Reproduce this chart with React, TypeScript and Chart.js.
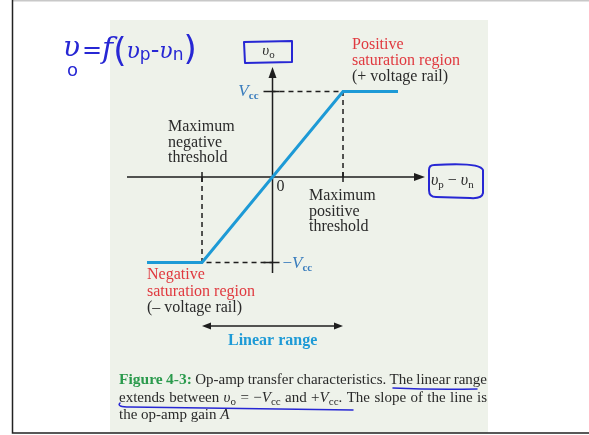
import React, { useEffect, useRef } from "react";
import { Chart, registerables } from "chart.js";

Chart.register(...registerables);

// Transfer characteristic: input (υp − υn, in threshold units) vs output (in Vcc units)
const inputDiff = [-1.78, -1, 1, 1.78];
const outputV = [-1, -1, 1, 1];
// Threshold inputs and rail outputs used for guides and ticks
const thresholds = [-1, 1];
const rails = [-1, 1];
const originLabel = "0";

const W = 589;
const H = 435;
const SERIF = '"Liberation Serif", "Times New Roman", serif';
const DARK = "#2a2a2a";
const RED = "#e0393f";
const CURVE = "#1d9ad6";
const RAILBLUE = "#3a7dbd";
const INK = "#2727d4";
const GREEN = "#2a9a4c";

type Run = { t: string; f: string; c: string; dy?: number };

function runsWidth(ctx: CanvasRenderingContext2D, runs: Run[]) {
  let w = 0;
  for (const r of runs) {
    ctx.font = r.f;
    w += ctx.measureText(r.t).width;
  }
  return w;
}

function drawRuns(
  ctx: CanvasRenderingContext2D,
  x: number,
  y: number,
  runs: Run[],
  justifyTo?: number
) {
  let extra = 0;
  if (justifyTo) {
    const nat = runsWidth(ctx, runs);
    const spaces = runs.reduce((n, r) => n + (r.t.match(/ /g) || []).length, 0);
    if (spaces > 0) extra = Math.max(-0.8, (justifyTo - nat) / spaces);
  }
  let cx = x;
  for (const r of runs) {
    ctx.font = r.f;
    ctx.fillStyle = r.c;
    const parts = r.t.split(/( )/);
    for (const p of parts) {
      if (p === "") continue;
      if (p !== " ") ctx.fillText(p, cx, y + (r.dy || 0));
      cx += ctx.measureText(p).width + (p === " " ? extra : 0);
    }
  }
  return cx;
}

function arrowHead(
  ctx: CanvasRenderingContext2D,
  tx: number,
  ty: number,
  dir: "up" | "right" | "left",
  len = 9,
  half = 4
) {
  ctx.beginPath();
  if (dir === "up") {
    ctx.moveTo(tx, ty);
    ctx.lineTo(tx - half, ty + len);
    ctx.lineTo(tx + half, ty + len);
  } else if (dir === "right") {
    ctx.moveTo(tx, ty);
    ctx.lineTo(tx - len, ty - half);
    ctx.lineTo(tx - len, ty + half);
  } else {
    ctx.moveTo(tx, ty);
    ctx.lineTo(tx + len, ty - half);
    ctx.lineTo(tx + len, ty + half);
  }
  ctx.closePath();
  ctx.fill();
}

const pagePlugin = {
  id: "page",
  beforeDraw(chart: any) {
    const ctx: CanvasRenderingContext2D = chart.ctx;
    ctx.save();
    ctx.fillStyle = "#ffffff";
    ctx.fillRect(0, 0, W, H);
    // figure panel
    ctx.fillStyle = "#eef2ea";
    ctx.fillRect(110, 20, 378, 413);
    // page frame
    ctx.strokeStyle = "#c8c8c8";
    ctx.lineWidth = 1.5;
    ctx.beginPath();
    ctx.moveTo(12, 0.75);
    ctx.lineTo(W, 0.75);
    ctx.stroke();
    ctx.strokeStyle = "#222";
    ctx.lineWidth = 1.5;
    ctx.beginPath();
    ctx.moveTo(12.5, 0);
    ctx.lineTo(12.5, 433);
    ctx.lineTo(W, 433);
    ctx.stroke();
    ctx.restore();
  },
  beforeDatasetsDraw(chart: any) {
    const ctx: CanvasRenderingContext2D = chart.ctx;
    const xs = chart.scales.x;
    const ys = chart.scales.y;
    const ox = xs.getPixelForValue(0);
    const oy = ys.getPixelForValue(0);
    const a = chart.chartArea;
    ctx.save();
    ctx.strokeStyle = "#1e1e1e";
    ctx.fillStyle = "#1e1e1e";
    ctx.lineWidth = 1.5;
    // axes
    ctx.beginPath();
    ctx.moveTo(a.left, oy);
    ctx.lineTo(a.right - 6, oy);
    ctx.moveTo(ox, a.bottom);
    ctx.lineTo(ox, a.top + 6);
    ctx.stroke();
    arrowHead(ctx, a.right, oy, "right", 11, 4);
    arrowHead(ctx, ox, a.top, "up", 11, 4);
    // ticks
    ctx.beginPath();
    for (const t of thresholds) {
      const px = xs.getPixelForValue(t);
      ctx.moveTo(px, oy - 5);
      ctx.lineTo(px, oy + 5);
    }
    for (const r of rails) {
      const py = ys.getPixelForValue(r);
      ctx.moveTo(ox - 9, py);
      ctx.lineTo(ox + 7, py);
    }
    ctx.stroke();
    ctx.restore();
  },
  afterDraw(chart: any) {
    const ctx: CanvasRenderingContext2D = chart.ctx;
    const xs = chart.scales.x;
    const ys = chart.scales.y;
    const ox = xs.getPixelForValue(0);
    const oy = ys.getPixelForValue(0);
    const yTop = ys.getPixelForValue(rails[1]);
    const yBot = ys.getPixelForValue(rails[0]);
    const xL = xs.getPixelForValue(thresholds[0]);
    const xR = xs.getPixelForValue(thresholds[1]);
    ctx.save();
    ctx.textBaseline = "alphabetic";
    const f16 = `16px ${SERIF}`;
    const f16i = `italic 16px ${SERIF}`;
    const f15 = `15px ${SERIF}`;
    const f15i = `italic 15px ${SERIF}`;
    const f11 = `11px ${SERIF}`;

    // region labels
    drawRuns(ctx, 352, 49, [{ t: "Positive", f: f16, c: RED }]);
    drawRuns(ctx, 352, 65, [{ t: "saturation region", f: f16, c: RED }]);
    drawRuns(ctx, 352, 81, [{ t: "(+ voltage rail)", f: f16, c: DARK }]);

    drawRuns(ctx, 147, 279, [{ t: "Negative", f: f16, c: RED }]);
    drawRuns(ctx, 147, 296, [{ t: "saturation region", f: f16, c: RED }]);
    drawRuns(ctx, 147, 312, [{ t: "(\u2013 voltage rail)", f: f16, c: DARK }]);

    drawRuns(ctx, 168, 131, [{ t: "Maximum", f: f16, c: DARK }]);
    drawRuns(ctx, 168, 147, [{ t: "negative", f: f16, c: DARK }]);
    drawRuns(ctx, 168, 162, [{ t: "threshold", f: f16, c: DARK }]);

    drawRuns(ctx, 309, 200, [{ t: "Maximum", f: f16, c: DARK }]);
    drawRuns(ctx, 309, 216, [{ t: "positive", f: f16, c: DARK }]);
    drawRuns(ctx, 309, 231, [{ t: "threshold", f: f16, c: DARK }]);

    // origin and rail labels
    drawRuns(ctx, ox + 4, oy + 14, [{ t: originLabel, f: f16, c: DARK }]);
    const vccRuns: Run[] = [
      { t: "V", f: `italic 17px ${SERIF}`, c: RAILBLUE },
      { t: "cc", f: `bold 11px ${SERIF}`, c: RAILBLUE, dy: 3 },
    ];
    const vw = runsWidth(ctx, vccRuns);
    drawRuns(ctx, ox - 14 - vw, yTop + 4, vccRuns);
    drawRuns(ctx, ox + 10, yBot + 6, [
      { t: "\u2212", f: `17px ${SERIF}`, c: RAILBLUE },
      ...vccRuns,
    ]);

    // axis name boxes
    const boxText: Run[] = [
      { t: "\u03c5", f: `italic 15px ${SERIF}`, c: DARK },
      { t: "o", f: f11, c: DARK, dy: 3 },
    ];
    const bw = runsWidth(ctx, boxText);
    drawRuns(ctx, ox - 4 - bw / 2, 55, boxText);
    const diffText: Run[] = [
      { t: "\u03c5", f: f16i, c: DARK },
      { t: "p", f: f11, c: DARK, dy: 3 },
      { t: " \u2212 ", f: f16, c: DARK },
      { t: "\u03c5", f: f16i, c: DARK },
      { t: "n", f: f11, c: DARK, dy: 3 },
    ];
    drawRuns(ctx, 431, 185, diffText);

    // linear range arrow
    ctx.strokeStyle = "#1e1e1e";
    ctx.fillStyle = "#1e1e1e";
    ctx.lineWidth = 1.5;
    ctx.beginPath();
    ctx.moveTo(xL + 6, 326);
    ctx.lineTo(xR - 6, 326);
    ctx.stroke();
    arrowHead(ctx, xL, 326, "left", 9, 3.5);
    arrowHead(ctx, xR, 326, "right", 9, 3.5);
    drawRuns(ctx, 228, 345, [{ t: "Linear range", f: `bold 16px ${SERIF}`, c: CURVE }]);

    // caption
    const capW = 368;
    drawRuns(
      ctx,
      119,
      384,
      [
        { t: "Figure 4-3:", f: `bold 15.5px ${SERIF}`, c: GREEN },
        { t: " Op-amp transfer characteristics. The linear range", f: f15, c: DARK },
      ],
      capW
    );
    drawRuns(
      ctx,
      119,
      402,
      [
        { t: "extends between ", f: f15, c: DARK },
        { t: "\u03c5", f: f15i, c: DARK },
        { t: "o", f: f11, c: DARK, dy: 3 },
        { t: " = \u2212", f: f15, c: DARK },
        { t: "V", f: f15i, c: DARK },
        { t: "cc", f: f11, c: DARK, dy: 3 },
        { t: " and +", f: f15, c: DARK },
        { t: "V", f: f15i, c: DARK },
        { t: "cc", f: f11, c: DARK, dy: 3 },
        { t: ". The slope of the line is", f: f15, c: DARK },
      ],
      capW
    );
    drawRuns(ctx, 119, 419, [
      { t: "the op-amp gain ", f: f15, c: DARK },
      { t: "A", f: f15i, c: DARK },
    ]);

    // pen annotations
    ctx.strokeStyle = INK;
    ctx.fillStyle = INK;
    ctx.lineWidth = 2;
    ctx.lineJoin = "round";
    ctx.lineCap = "round";
    ctx.beginPath();
    ctx.moveTo(244, 42);
    ctx.lineTo(292, 41);
    ctx.lineTo(292, 62);
    ctx.lineTo(245, 63);
    ctx.closePath();
    ctx.stroke();
    ctx.beginPath();
    ctx.moveTo(434, 165);
    ctx.quadraticCurveTo(480, 162, 483, 170);
    ctx.lineTo(483, 193);
    ctx.quadraticCurveTo(482, 199, 470, 198);
    ctx.lineTo(436, 197);
    ctx.quadraticCurveTo(429, 197, 429, 190);
    ctx.lineTo(429, 170);
    ctx.quadraticCurveTo(429, 165, 434, 165);
    ctx.stroke();
    ctx.lineWidth = 1.5;
    ctx.beginPath();
    ctx.moveTo(393, 388);
    ctx.quadraticCurveTo(435, 390, 477, 389);
    ctx.stroke();
    ctx.beginPath();
    ctx.moveTo(120, 403);
    ctx.quadraticCurveTo(116, 407, 130, 407);
    ctx.quadraticCurveTo(240, 408, 353, 410);
    ctx.stroke();

    // handwritten relation υo = f(υp − υn)
    const hand = `italic 28px "DejaVu Serif", ${SERIF}`;
    drawRuns(ctx, 63, 56, [{ t: "\u03c5", f: hand, c: INK }]);
    drawRuns(ctx, 67, 76, [{ t: "o", f: `18px "DejaVu Sans"`, c: INK }]);
    drawRuns(ctx, 82, 58, [
      { t: "=", f: `24px "DejaVu Sans"`, c: INK },
      { t: "f", f: `italic 30px "DejaVu Serif"`, c: INK },
      { t: "(", f: `34px "DejaVu Sans"`, c: INK, dy: 4 },
      { t: "\u03c5", f: `italic 22px "DejaVu Serif"`, c: INK },
      { t: "p", f: `17px "DejaVu Sans"`, c: INK, dy: 2 },
      { t: "-", f: `24px "DejaVu Sans"`, c: INK },
      { t: "\u03c5", f: `italic 22px "DejaVu Serif"`, c: INK },
      { t: "n", f: `17px "DejaVu Sans"`, c: INK, dy: 2 },
      { t: ")", f: `34px "DejaVu Sans"`, c: INK, dy: 2 },
    ]);
    ctx.restore();
  },
};

export default function App() {
  const ref = useRef<HTMLCanvasElement | null>(null);

  useEffect(() => {
    if (!ref.current) return;
    const curve = inputDiff.map((x, i) => ({ x, y: outputV[i] }));
    const posGuide = [
      { x: thresholds[1], y: 0 },
      { x: thresholds[1], y: rails[1] },
      { x: 0, y: rails[1] },
    ];
    const negGuide = [
      { x: thresholds[0], y: 0 },
      { x: thresholds[0], y: rails[0] },
      { x: 0, y: rails[0] },
    ];
    const guideStyle = {
      type: "line" as const,
      borderColor: "#1e1e1e",
      borderWidth: 1.5,
      borderDash: [5, 4],
      pointRadius: 0,
      showLine: true,
      fill: false,
      clip: false as any,
    };
    const chart = new Chart(ref.current, {
      type: "scatter",
      data: {
        datasets: [
          {
            label: "transfer",
            data: curve,
            showLine: true,
            borderColor: CURVE,
            borderWidth: 3,
            pointRadius: 0,
            clip: false as any,
          },
          { label: "positive guide", data: posGuide, ...guideStyle },
          { label: "negative guide", data: negGuide, ...guideStyle },
        ],
      },
      options: {
        animation: false,
        responsive: false,
        events: [],
        layout: { padding: { left: 127, right: 164, top: 67, bottom: 162 } },
        plugins: { legend: { display: false }, tooltip: { enabled: false } },
        scales: {
          x: { type: "linear", display: false, min: -2.064, max: 2.163 },
          y: { type: "linear", display: false, min: -1.123, max: 1.287 },
        },
      },
      plugins: [pagePlugin],
    });
    return () => chart.destroy();
  }, []);

  return (
    <div style={{ position: "fixed", left: 0, top: 0, width: W, height: H }}>
      <canvas ref={ref} width={W} height={H} style={{ display: "block" }} />
    </div>
  );
}
